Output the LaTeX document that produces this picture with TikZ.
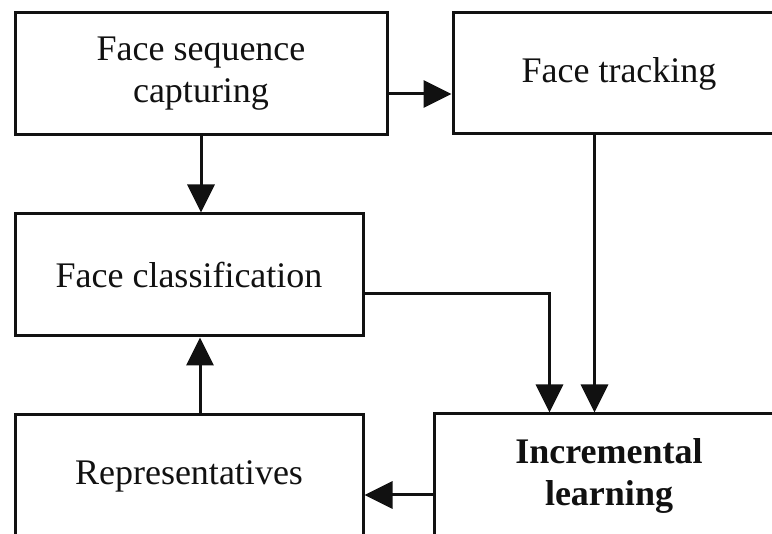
\documentclass[tikz,border=0pt]{standalone}
\usepackage{fontspec}
\setmainfont{Liberation Serif}
\usepackage{xcolor}
\usepackage{tikz}
\usetikzlibrary{arrows.meta,positioning}
\definecolor{ink}{HTML}{111111}
\tikzset{
  blk/.style={draw=ink, line width=1.5pt, align=center, inner sep=0pt,
    font=\fontsize{18}{21}\selectfont, text=ink},
  arr/.style={draw=ink, line width=1.5pt, -{Triangle[length=14pt,width=13.5pt]}}
}
\begin{document}
\begin{tikzpicture}[x=0.5pt,y=-0.5pt]
\clip (0,0) rectangle (772,534);
\fill[white] (0,0) rectangle (772,534);
\node[blk, minimum width=186pt, minimum height=61pt] (capture) at (201,74) {Face sequence\\capturing};
\node[blk, minimum width=166pt, minimum height=60.5pt] (track) at (619,73.5) {Face tracking};
\node[blk, minimum width=174pt, minimum height=61pt] (classif) at (189,275) {Face classification};
\node[blk, minimum width=174pt, minimum height=61.5pt] (rep) at (189,476.5) {Representatives};
\node[blk, minimum width=175pt, minimum height=62pt, font=\fontsize{18}{21}\selectfont\bfseries] (incr) at (609,476) {Incremental\\learning};
\draw[arr] ([yshift=-10pt]capture.east) -- ([yshift=-10pt]capture.east -| track.west);
\draw[arr] (capture.south) -- (capture.south |- classif.north);
\draw[arr] ([xshift=5.5pt]rep.north) -- ([xshift=5.5pt]rep.north |- classif.south);
\draw[arr] ([yshift=-9.5pt]classif.east) -| ([xshift=58.5pt]incr.north west);
\draw[arr] ([xshift=71.5pt]track.south west) -- ([xshift=71.5pt]track.south west |- incr.north);
\draw[arr] ([yshift=-9.5pt]incr.west) -- ([yshift=-9.5pt]incr.west -| rep.east);
\end{tikzpicture}
\end{document}
